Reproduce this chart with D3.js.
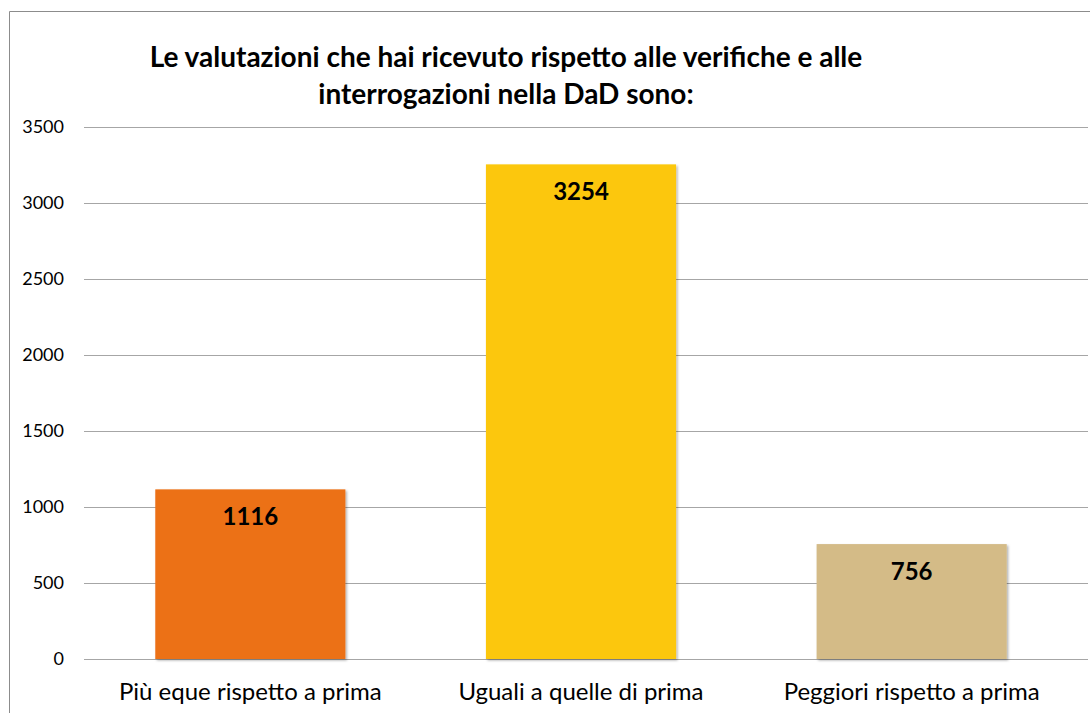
<!DOCTYPE html>
<html>
<head>
<meta charset="utf-8">
<script src="https://cdn.jsdelivr.net/npm/d3@7"></script>
<style>
  body { margin: 0; background: #fff; }
  svg { display: block; font-family: Lato, "Open Sans", sans-serif; }
</style>
</head>
<body>
<svg id="chart" width="1090" height="713"></svg>
<script>
// data
var categories = ["Più eque rispetto a prima", "Uguali a quelle di prima", "Peggiori rispetto a prima"];
var values = [1116, 3254, 756];
var colors = ["#EC7118", "#FCC70A", "#D4BB87"];
var yTicks = [0, 500, 1000, 1500, 2000, 2500, 3000, 3500];
var titleLines = ["Le valutazioni che hai ricevuto rispetto alle verifiche e alle", "interrogazioni nella DaD sono:"];

var svg = d3.select("#chart");

// chart frame
svg.append("path")
    .attr("d", "M9.5,713 V11.5 H1090")
    .attr("fill", "none")
    .attr("stroke", "#8c8c8c")
    .attr("stroke-width", 1);

var x = d3.scaleBand()
    .domain(categories)
    .range([85, 1077])
    .paddingInner(0.425)
    .paddingOuter(0.2125);

var y = d3.scaleLinear()
    .domain([0, 3500])
    .range([659, 127]);

// gridlines
svg.append("g")
    .selectAll("line")
    .data(yTicks)
    .enter()
    .append("line")
    .attr("x1", 84)
    .attr("x2", 1088)
    .attr("y1", d => Math.round(y(d)) + 0.5)
    .attr("y2", d => Math.round(y(d)) + 0.5)
    .attr("stroke", "#a6a6a6")
    .attr("stroke-width", 1.2);

// y axis labels
svg.append("g")
    .selectAll("text")
    .data(yTicks)
    .enter()
    .append("text")
    .attr("x", 64)
    .attr("y", d => y(d))
    .attr("dy", "0.35em")
    .attr("text-anchor", "end")
    .attr("font-size", 18)
    .attr("fill", "#000")
    .text(d => d);

// shadow for bars
var defs = svg.append("defs");
var f = defs.append("filter").attr("id", "shadow").attr("x", "-10%").attr("y", "-10%").attr("width", "120%").attr("height", "120%");
f.append("feDropShadow")
    .attr("dx", 1.5).attr("dy", 1.5).attr("stdDeviation", 1.2)
    .attr("flood-color", "#000").attr("flood-opacity", 0.3);

// bars
svg.append("g")
    .selectAll("rect")
    .data(values)
    .enter()
    .append("rect")
    .attr("x", (d, i) => x(categories[i]))
    .attr("y", d => y(d))
    .attr("width", x.bandwidth())
    .attr("height", d => y(0) - y(d))
    .attr("fill", (d, i) => colors[i])
    .attr("filter", "url(#shadow)");

// value labels
svg.append("g")
    .selectAll("text")
    .data(values)
    .enter()
    .append("text")
    .attr("x", (d, i) => x(categories[i]) + x.bandwidth() / 2)
    .attr("y", d => y(d) + 36)
    .attr("text-anchor", "middle")
    .attr("font-size", 24)
    .attr("font-weight", "bold")
    .attr("fill", "#000")
    .text(d => d);

// category labels
svg.append("g")
    .selectAll("text")
    .data(categories)
    .enter()
    .append("text")
    .attr("x", d => x(d) + x.bandwidth() / 2)
    .attr("y", 700)
    .attr("text-anchor", "middle")
    .attr("font-size", 24)
    .attr("fill", "#000")
    .text(d => d);

// title
svg.append("g")
    .selectAll("text")
    .data(titleLines)
    .enter()
    .append("text")
    .attr("x", 506)
    .attr("y", (d, i) => 67 + i * 37)
    .attr("text-anchor", "middle")
    .attr("font-size", 28)
    .attr("font-weight", "bold")
    .attr("fill", "#000")
    .text(d => d);
</script>
</body>
</html>
